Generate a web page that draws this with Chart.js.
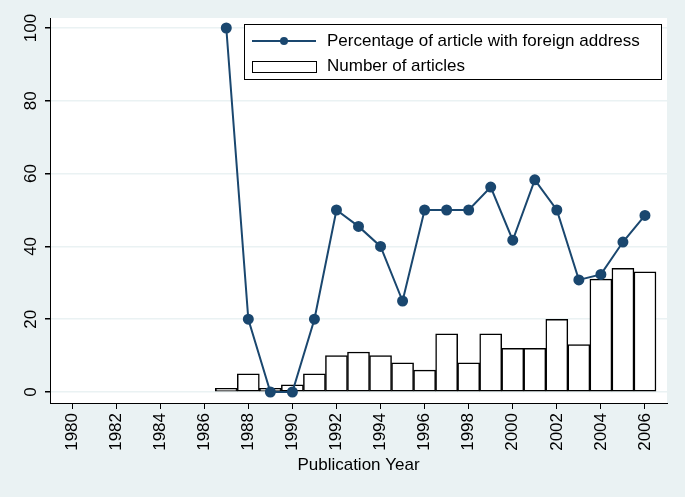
<!DOCTYPE html>
<html>
<head>
<meta charset="utf-8">
<script src="https://cdn.jsdelivr.net/npm/chart.js@4.4.1/dist/chart.umd.min.js"></script>
<style>
  html, body { margin: 0; padding: 0; background: #eaf2f3; }
  #wrap { width: 685px; height: 497px; }
</style>
</head>
<body>
<div id="wrap"><canvas id="chart" width="685" height="497"></canvas></div>
<script>
// data
var years = [1987, 1988, 1989, 1990, 1991, 1992, 1993, 1994, 1995, 1996,
             1997, 1998, 1999, 2000, 2001, 2002, 2003, 2004, 2005, 2006];
var articles = [1, 5, 1, 2, 5, 10, 11, 10, 8, 6,
                16, 8, 16, 12, 12, 20, 13, 31, 34, 33];
var foreignPct = [100, 20, 0, 0, 20, 50, 45.5, 40, 25, 50,
                  50, 50, 56.3, 41.7, 58.3, 50, 30.8, 32.3, 41.2, 48.5];
var xTicks = [1980, 1982, 1984, 1986, 1988, 1990, 1992, 1994, 1996, 1998, 2000, 2002, 2004, 2006];
var yTicks = [0, 20, 40, 60, 80, 100];

var FONT = '"Liberation Sans", Arial, sans-serif';
var FSIZE = 17;
var NAVY = '#1a476f';
var BG = '#eaf2f3';

function pts(vals) {
  return years.map(function (y, i) { return { x: y, y: vals[i] }; });
}

// white plot region + rotated y labels
var plotBg = {
  id: 'plotBg',
  beforeDraw: function (chart) {
    var a = chart.chartArea, ctx = chart.ctx;
    ctx.save();
    ctx.fillStyle = '#ffffff';
    ctx.fillRect(a.left, a.top, a.right - a.left, a.bottom - a.top);
    ctx.restore();
  },
  afterDraw: function (chart) {
    var ctx = chart.ctx, ys = chart.scales.y;
    ctx.save();
    ctx.fillStyle = '#000';
    ctx.font = FSIZE + 'px ' + FONT;
    ctx.textAlign = 'center';
    ctx.textBaseline = 'middle';
    yTicks.forEach(function (v) {
      ctx.save();
      ctx.translate(31, ys.getPixelForValue(v));
      ctx.rotate(-Math.PI / 2);
      ctx.fillText(String(v), 0, 0);
      ctx.restore();
    });
    ctx.restore();
  }
};

// legend box inside the plot, top right
var boxLegend = {
  id: 'boxLegend',
  afterDraw: function (chart) {
    var ctx = chart.ctx;
    var ds = chart.data.datasets;
    var bx = 244, by = 24, bw = 417, bh = 55;
    ctx.save();
    ctx.fillStyle = '#fff';
    ctx.fillRect(bx, by, bw, bh);
    ctx.strokeStyle = '#000';
    ctx.lineWidth = 1;
    ctx.strokeRect(bx + 0.5, by + 0.5, bw, bh);

    // line entry
    ctx.strokeStyle = ds[0].borderColor;
    ctx.lineWidth = 2;
    ctx.beginPath();
    ctx.moveTo(252, 41);
    ctx.lineTo(316, 41);
    ctx.stroke();
    ctx.fillStyle = ds[0].pointBackgroundColor;
    ctx.beginPath();
    ctx.arc(284, 41, 4, 0, Math.PI * 2);
    ctx.fill();

    // bar entry
    ctx.fillStyle = '#fff';
    ctx.fillRect(252, 61, 64, 11);
    ctx.strokeStyle = '#000';
    ctx.lineWidth = 1;
    ctx.strokeRect(252.5, 61.5, 64, 11);

    ctx.fillStyle = '#000';
    ctx.font = FSIZE + 'px ' + FONT;
    ctx.textAlign = 'left';
    ctx.textBaseline = 'middle';
    ctx.fillText(ds[0].label, 327, 41);
    ctx.fillText(ds[1].label, 327, 66);
    ctx.restore();
  }
};

var ctx = document.getElementById('chart').getContext('2d');
var chart = new Chart(ctx, {
  type: 'line',
  data: {
    datasets: [{
      type: 'line',
      label: 'Percentage of article with foreign address',
      data: pts(foreignPct),
      borderColor: NAVY,
      backgroundColor: NAVY,
      pointBackgroundColor: NAVY,
      pointBorderColor: NAVY,
      borderWidth: 2,
      pointRadius: 4.5,
      tension: 0,
      order: 0
    }, {
      type: 'bar',
      label: 'Number of articles',
      data: pts(articles),
      backgroundColor: '#ffffff',
      borderColor: '#000000',
      borderWidth: 1.5,
      borderSkipped: false,
      categoryPercentage: 1,
      barPercentage: 1,
      order: 1
    }]
  },
  options: {
    responsive: false,
    animation: false,
    layout: { padding: { left: 0, right: 18, top: 18, bottom: 0 } },
    plugins: {
      legend: { display: false },
      tooltip: { enabled: false }
    },
    scales: {
      x: {
        type: 'linear',
        min: 1979,
        max: 2007,
        offset: false,
        afterBuildTicks: function (s) {
          s.ticks = xTicks.map(function (v) { return { value: v }; });
        },
        afterFit: function (s) { s.height = 94; },
        grid: {
          offset: false,
          drawOnChartArea: false,
          tickLength: 6,
          tickColor: '#000',
          tickWidth: 1
        },
        border: { color: '#000', width: 1 },
        ticks: {
          minRotation: 90,
          maxRotation: 90,
          padding: 4,
          color: '#000',
          font: { family: FONT, size: FSIZE },
          callback: function (v) { return String(v); }
        },
        title: {
          display: true,
          text: 'Publication Year',
          color: '#000',
          font: { family: FONT, size: FSIZE },
          padding: { top: 0, bottom: 21 }
        }
      },
      y: {
        type: 'linear',
        min: -3.02,
        max: 102.75,
        afterBuildTicks: function (s) {
          s.ticks = yTicks.map(function (v) { return { value: v }; });
        },
        afterFit: function (s) { s.width = 50; },
        grid: {
          color: BG,
          lineWidth: 1.5,
          tickLength: 5,
          tickColor: '#000'
        },
        border: { color: '#000', width: 1 },
        ticks: { display: false }
      }
    }
  },
  plugins: [plotBg, boxLegend]
});
</script>
</body>
</html>
